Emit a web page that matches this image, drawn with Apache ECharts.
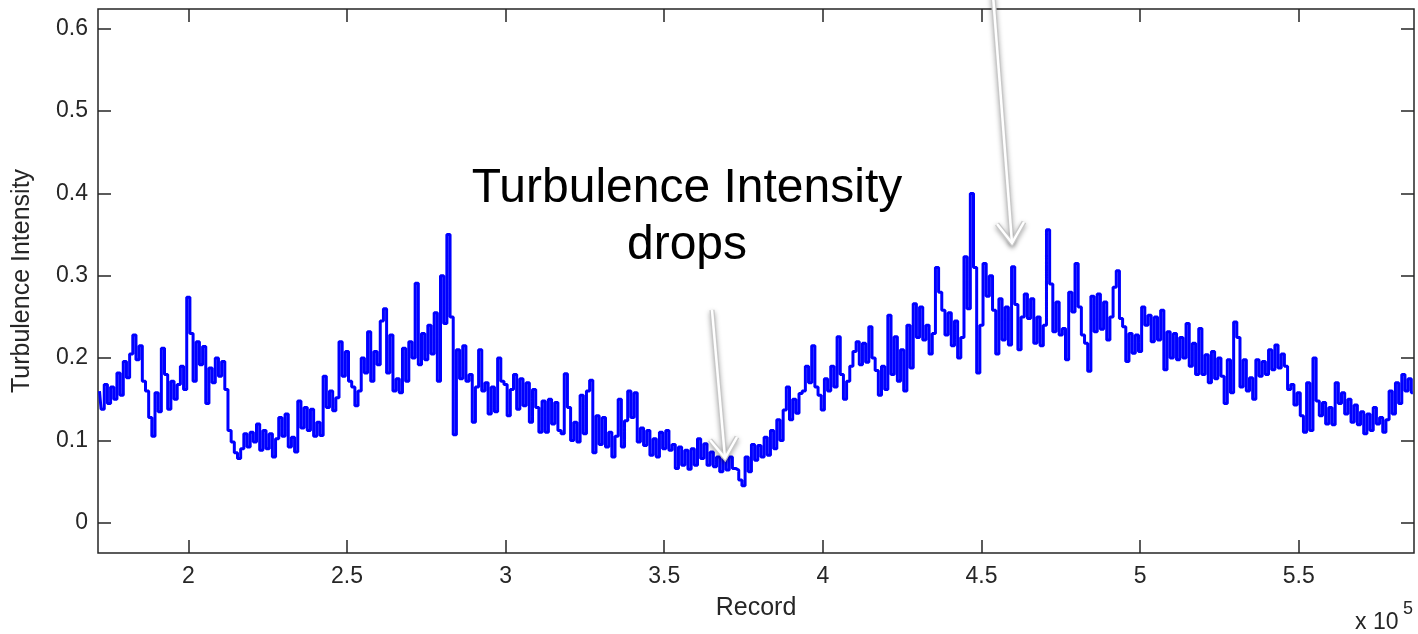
<!DOCTYPE html>
<html>
<head>
<meta charset="utf-8">
<script src="https://cdn.jsdelivr.net/npm/echarts@6/dist/echarts.min.js"></script>
<style>
  html, body { margin: 0; padding: 0; background: #fff; }
  #main { width: 1418px; height: 634px; }
</style>
</head>
<body>
<div id="main"></div>
<script>
// sampled every 1000 records, starting at record 172000
var recordStart = 172000;
var recordStep = 1000;
var intensity = [
  0.160,0.138,0.168,0.145,0.165,0.150,0.182,0.155,0.196,0.176,
  0.205,0.228,0.198,0.215,0.172,0.160,0.128,0.105,0.158,0.135,
  0.212,0.180,0.138,0.172,0.150,0.168,0.190,0.162,0.274,0.230,
  0.172,0.220,0.192,0.214,0.145,0.188,0.170,0.200,0.178,0.196,
  0.162,0.112,0.098,0.085,0.078,0.090,0.108,0.092,0.110,0.098,
  0.120,0.088,0.112,0.090,0.108,0.080,0.102,0.128,0.105,0.132,
  0.092,0.104,0.086,0.148,0.115,0.140,0.112,0.138,0.105,0.122,
  0.106,0.178,0.140,0.160,0.136,0.152,0.220,0.178,0.208,0.172,
  0.165,0.142,0.160,0.200,0.182,0.232,0.172,0.208,0.192,0.245,
  0.260,0.182,0.228,0.160,0.175,0.158,0.212,0.172,0.220,0.200,
  0.291,0.192,0.230,0.198,0.240,0.205,0.255,0.172,0.300,0.242,
  0.350,0.250,0.107,0.210,0.175,0.215,0.172,0.180,0.122,0.165,
  0.210,0.160,0.170,0.132,0.165,0.135,0.200,0.172,0.168,0.130,
  0.162,0.180,0.138,0.175,0.142,0.170,0.122,0.162,0.140,0.110,
  0.148,0.110,0.150,0.120,0.146,0.112,0.108,0.181,0.140,0.100,
  0.122,0.098,0.155,0.108,0.160,0.173,0.085,0.130,0.095,0.128,
  0.092,0.110,0.080,0.105,0.150,0.092,0.124,0.160,0.128,0.158,
  0.098,0.115,0.094,0.112,0.082,0.102,0.080,0.110,0.090,0.112,
  0.088,0.095,0.066,0.092,0.070,0.088,0.065,0.090,0.070,0.102,
  0.078,0.096,0.070,0.086,0.068,0.080,0.062,0.078,0.064,0.080,
  0.066,0.064,0.052,0.045,0.080,0.062,0.095,0.076,0.094,0.080,
  0.104,0.082,0.112,0.090,0.125,0.100,0.137,0.165,0.125,0.150,
  0.133,0.157,0.160,0.190,0.170,0.215,0.165,0.155,0.137,0.175,
  0.160,0.190,0.165,0.226,0.180,0.150,0.172,0.190,0.208,0.220,
  0.192,0.218,0.195,0.238,0.200,0.185,0.155,0.190,0.162,0.252,
  0.180,0.226,0.172,0.210,0.160,0.240,0.188,0.266,0.225,0.262,
  0.222,0.240,0.205,0.230,0.310,0.280,0.258,0.228,0.255,0.215,
  0.245,0.200,0.225,0.323,0.260,0.400,0.310,0.182,0.240,0.315,
  0.275,0.300,0.258,0.205,0.272,0.222,0.262,0.216,0.311,0.265,
  0.210,0.250,0.278,0.248,0.272,0.218,0.250,0.215,0.240,0.356,
  0.290,0.232,0.268,0.228,0.236,0.198,0.280,0.256,0.315,0.262,
  0.228,0.218,0.184,0.275,0.232,0.278,0.235,0.268,0.222,0.250,
  0.286,0.306,0.248,0.238,0.196,0.230,0.206,0.228,0.208,0.262,
  0.240,0.252,0.220,0.250,0.222,0.258,0.186,0.232,0.200,0.230,
  0.198,0.225,0.200,0.242,0.190,0.218,0.180,0.236,0.180,0.204,
  0.170,0.208,0.175,0.200,0.178,0.145,0.198,0.158,0.244,0.225,
  0.165,0.198,0.160,0.176,0.150,0.198,0.178,0.196,0.180,0.210,
  0.186,0.216,0.188,0.205,0.190,0.162,0.168,0.143,0.158,0.130,
  0.110,0.170,0.112,0.200,0.148,0.130,0.146,0.120,0.140,0.119,
  0.170,0.145,0.158,0.132,0.150,0.122,0.143,0.119,0.135,0.108,
  0.132,0.112,0.140,0.120,0.128,0.110,0.125,0.160,0.132,0.170,
  0.145,0.180,0.160,0.175,0.158
];
var xTicks = [200000, 250000, 300000, 350000, 400000, 450000, 500000, 550000];
var yTicks = [0, 0.1, 0.2, 0.3, 0.4, 0.5, 0.6];

var points = [];
for (var i = 0; i < intensity.length; i++) {
    points.push([recordStart + i * recordStep, intensity[i]]);
}

var axisColor = '#262626';
var fontFam = 'Liberation Sans, Arial, sans-serif';
var labelFont = { color: '#262626', fontSize: 23, fontFamily: fontFam };
var nameFont = { color: '#262626', fontSize: 25, fontFamily: fontFam };
var tickStyle = { color: axisColor, width: 1.5 };

// draws a light arrow like the slide callouts
function arrow(x1, y1, x2, y2, a1, a2) {
    var shadow = { shadowBlur: 5, shadowColor: 'rgba(0,0,0,0.35)', shadowOffsetY: 2 };
    return [
        { type: 'line', z: 100, shape: { x1: x1, y1: y1, x2: x2, y2: y2 },
          style: Object.assign({ stroke: '#c8c8c8', lineWidth: 5 }, shadow) },
        { type: 'polyline', z: 100, shape: { points: [a1, [x2, y2], a2] },
          style: Object.assign({ stroke: '#c8c8c8', lineWidth: 5, fill: null }, shadow) },
        { type: 'line', z: 101, shape: { x1: x1, y1: y1, x2: x2, y2: y2 },
          style: { stroke: '#ffffff', lineWidth: 2.5 } },
        { type: 'polyline', z: 101, shape: { points: [a1, [x2, y2], a2] },
          style: { stroke: '#ffffff', lineWidth: 2.5, fill: null } }
    ];
}

var dom = document.getElementById('main');
var myChart = echarts.init(dom);

var option = {
    backgroundColor: '#fff',
    animation: false,
    grid: {
        left: 98, right: 4, top: 9, bottom: 81,
        show: true, borderColor: axisColor, borderWidth: 1.5, backgroundColor: '#fff'
    },
    xAxis: [
        {
            type: 'value', min: 171530, max: 586350,
            name: 'Record', nameLocation: 'middle', nameGap: 43,
            nameTextStyle: nameFont,
            axisLine: { show: false, onZero: false },
            splitLine: { show: false },
            axisTick: { inside: true, length: 13, lineStyle: tickStyle, customValues: xTicks },
            axisLabel: Object.assign({ margin: 12, customValues: xTicks,
                formatter: function (v) { return String(v / 100000); } }, labelFont)
        },
        {
            type: 'value', position: 'top', min: 171530, max: 586350,
            axisLine: { show: false, onZero: false }, splitLine: { show: false },
            axisTick: { inside: true, length: 13, lineStyle: tickStyle, customValues: xTicks },
            axisLabel: { show: false }
        }
    ],
    yAxis: [
        {
            type: 'value', min: -0.0367, max: 0.624,
            name: 'Turbulence Intensity', nameLocation: 'middle', nameGap: 63,
            nameTextStyle: nameFont,
            axisLine: { show: false, onZero: false },
            splitLine: { show: false },
            axisTick: { inside: true, length: 13, lineStyle: tickStyle, customValues: yTicks },
            axisLabel: Object.assign({ margin: 10, customValues: yTicks }, labelFont)
        },
        {
            type: 'value', position: 'right', min: -0.0367, max: 0.624,
            axisLine: { show: false, onZero: false }, splitLine: { show: false },
            axisTick: { inside: true, length: 13, lineStyle: tickStyle, customValues: yTicks },
            axisLabel: { show: false }
        }
    ],
    series: [
        {
            type: 'line',
            xAxisIndex: 0, yAxisIndex: 0,
            data: points,
            step: 'middle',
            showSymbol: false,
            lineStyle: { color: '#0000ff', width: 3 },
            z: 5
        }
    ],
    graphic: [
        { type: 'text', left: 1355, top: 611, z: 50,
          style: { text: 'x 10', fill: '#262626', fontSize: 23, fontFamily: fontFam } },
        { type: 'text', left: 1403, top: 600, z: 50,
          style: { text: '5', fill: '#262626', fontSize: 18, fontFamily: fontFam } },
        { type: 'text', x: 687, y: 217, z: 50,
          style: { text: 'Turbulence Intensity\ndrops', fill: '#000', fontSize: 48, lineHeight: 57,
                   align: 'center', verticalAlign: 'middle', fontFamily: fontFam } }
    ].concat(
        arrow(712, 310, 725, 458, [737, 437], [710, 440]),
        arrow(993, -5, 1012, 243, [1024, 222], [997, 224])
    )
};

myChart.setOption(option);
</script>
</body>
</html>
